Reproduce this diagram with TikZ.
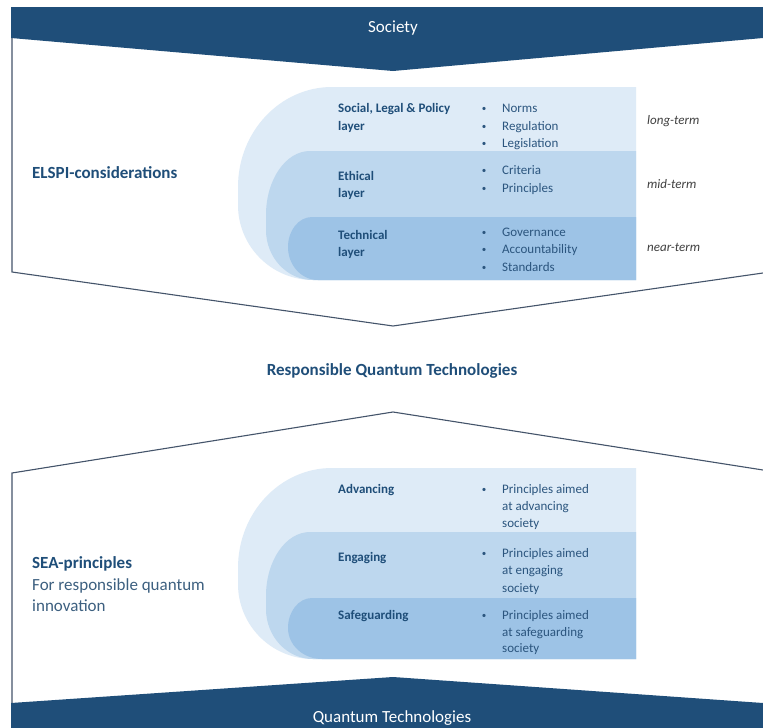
\documentclass[tikz,border=0pt]{standalone}
\usepackage{fontspec}
\setmainfont{Carlito}
\definecolor{band}{HTML}{1F4E79}
\definecolor{lone}{HTML}{DEEBF7}
\definecolor{ltwo}{HTML}{BDD7EE}
\definecolor{lthree}{HTML}{9DC3E6}
\definecolor{lblc}{HTML}{1F4E79}
\definecolor{itemc}{HTML}{2B557E}
\definecolor{subc}{HTML}{3D6080}
\definecolor{linec}{HTML}{44546A}
\definecolor{termc}{HTML}{404040}
\newcommand{\lyrshape}[9]{%
\fill[#1] (#5,#2) -- ({#4+#6},#2) .. controls ({#4+#6-0.5523*#6},#2) and (#4,{#2+#7-0.5523*#7}) .. (#4,{#2+#7}) -- (#4,{#3-#9}) .. controls (#4,{#3-#9+0.5523*#9}) and ({#4+#8-0.5523*#8},#3) .. ({#4+#8},#3) -- (#5,#3) -- cycle;}
\tikzset{
  lbl/.style={font=\fontsize{13}{15}\selectfont\bfseries, text=lblc, inner sep=0pt, anchor=base west},
  itm/.style={font=\fontsize{13}{15}\selectfont, text=itemc, inner sep=0pt, anchor=base west},
  bul/.style={font=\fontsize{9}{11}\selectfont, text=itemc, inner sep=0pt, anchor=base},
  trm/.style={font=\fontsize{13}{15}\selectfont\itshape, text=termc, inner sep=0pt, anchor=base west},
  bigb/.style={font=\fontsize{17}{20}\selectfont\bfseries, text=lblc, inner sep=0pt},
  bigr/.style={font=\fontsize{17}{20}\selectfont, text=subc, inner sep=0pt, anchor=base west},
  bandtxt/.style={font=\fontsize{17}{20}\selectfont, text=white, inner sep=0pt, anchor=base},
  outline/.style={draw=linec, line width=1.1pt, line join=miter}
}
\begin{document}
\begin{tikzpicture}[x=1pt,y=-1pt]
\useasboundingbox (0,0) rectangle (763,728);
\fill[white] (0,0) rectangle (763,728);
% top band
\fill[band] (11,7) -- (763,7) -- (763,38) -- (393,71) -- (11,38) -- cycle;
\node[bandtxt] (society) at (393,32) {Society};
% top box outline
\draw[outline] (12,38) -- (12,272) -- (393,326) -- (763,273);
% top layers
\lyrshape{lone}{87}{280}{238}{636}{94}{100}{75}{75}
\lyrshape{ltwo}{151}{280}{266}{636}{44}{64}{47}{50}
\lyrshape{lthree}{217}{280}{288}{636}{24}{30}{30}{33}
\node[bigb, anchor=base west] (elspi) at (32,178.5) {ELSPI-considerations};
\node[lbl] (slp1) at (338,112.5) {Social, Legal \& Policy};
\node[lbl] (slp2) at (338,130) {layer};
\node[bul] (b1) at (484,111.5) {•};
\node[bul] (b2) at (484,129) {•};
\node[bul] (b3) at (484,146.5) {•};
\node[itm] (norms) at (502,112.5) {Norms};
\node[itm] (regul) at (502,130) {Regulation};
\node[itm] (legis) at (502,147.5) {Legislation};
\node[trm] (longt) at (647,124.5) {long-term};
\node[lbl] (eth1) at (338,180) {Ethical};
\node[lbl] (eth2) at (338,197.5) {layer};
\node[bul] (b4) at (484,173.5) {•};
\node[bul] (b5) at (484,191) {•};
\node[itm] (crit) at (502,174.5) {Criteria};
\node[itm] (princ) at (502,192) {Principles};
\node[trm] (midt) at (647,188) {mid-term};
\node[lbl] (tec1) at (338,239) {Technical};
\node[lbl] (tec2) at (338,256.5) {layer};
\node[bul] (b6) at (484,235) {•};
\node[bul] (b7) at (484,252.5) {•};
\node[bul] (b8) at (484,270) {•};
\node[itm] (gov) at (502,236) {Governance};
\node[itm] (acc) at (502,253.5) {Accountability};
\node[itm] (std) at (502,271) {Standards};
\node[trm] (neart) at (647,251) {near-term};
% middle title
\node[bigb, anchor=base] (rqt) at (392,375.5) {Responsible Quantum Technologies};
% bottom box outline
\draw[outline] (12,703) -- (12,473) -- (393,412) -- (763,470);
% bottom band
\fill[band] (11,703) -- (393,677) -- (763,703) -- (763,728) -- (11,728) -- cycle;
\node[bandtxt] (qt) at (392,722.5) {Quantum Technologies};
% bottom layers
\lyrshape{lone}{468}{659}{238}{636}{94}{100}{75}{75}
\lyrshape{ltwo}{532}{659}{266}{636}{44}{64}{47}{50}
\lyrshape{lthree}{598}{659}{288}{636}{24}{30}{34}{31}
\node[bigb, anchor=base west] (sea) at (32,568.5) {SEA-principles};
\node[bigr] (sea2) at (32,590) {For responsible quantum};
\node[bigr] (sea3) at (32,611.5) {innovation};
\node[lbl] (adv) at (338,493.5) {Advancing};
\node[bul] (b9) at (484,492.5) {•};
\node[itm] (adv1) at (502,493.5) {Principles aimed};
\node[itm] (adv2) at (502,510.5) {at advancing};
\node[itm] (adv3) at (502,527.5) {society};
\node[lbl] (eng) at (338,561) {Engaging};
\node[bul] (b10) at (484,556) {•};
\node[itm] (eng1) at (502,557) {Principles aimed};
\node[itm] (eng2) at (502,574.5) {at engaging};
\node[itm] (eng3) at (502,592) {society};
\node[lbl] (saf) at (338,619.5) {Safeguarding};
\node[bul] (b11) at (484,618.5) {•};
\node[itm] (saf1) at (502,619.5) {Principles aimed};
\node[itm] (saf2) at (502,636) {at safeguarding};
\node[itm] (saf3) at (502,652.5) {society};
\end{tikzpicture}
\end{document}
